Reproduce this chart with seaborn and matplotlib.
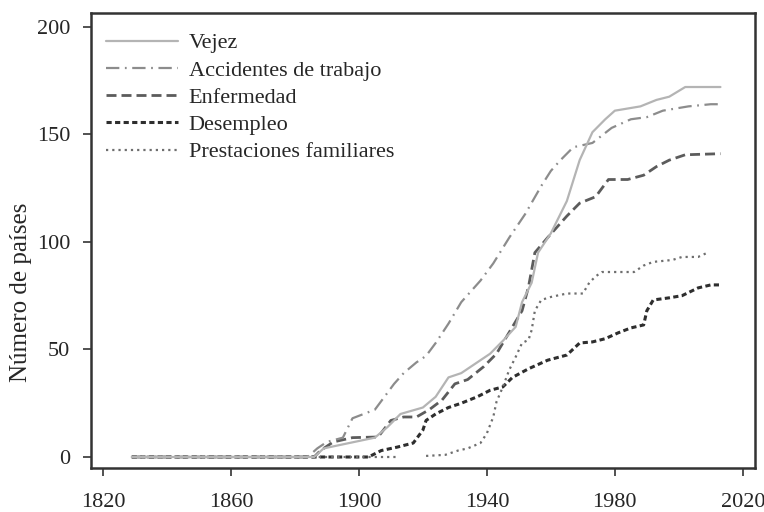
import numpy as np
import pandas as pd
import matplotlib
matplotlib.use("Agg")
import matplotlib.pyplot as plt
import seaborn as sns

# cumulative number of countries with a programme
vejez_years = [1829, 1886, 1889, 1897, 1905, 1909, 1913, 1920, 1924, 1928, 1932, 1937, 1941,
               1945, 1949, 1951, 1954, 1956, 1960, 1965, 1969, 1973, 1977, 1980, 1988, 1993,
               1997, 2002, 2013]
vejez_vals = [0, 0, 4, 6.5, 9, 14, 20, 23, 28, 37, 39, 44, 48,
              54, 60.5, 72, 81, 95, 104, 119, 138, 151, 157, 161, 163, 166,
              167.5, 172, 172]

acc_years = [1829, 1884, 1887, 1890, 1895, 1898, 1905, 1908, 1911, 1914, 1918, 1921, 1924,
             1928, 1932, 1938, 1942, 1947, 1952, 1957, 1960, 1963, 1967, 1973, 1979, 1985,
             1990, 1995, 2003, 2010, 2013]
acc_vals = [0, 0, 4, 7, 9, 18, 22, 28, 34, 39, 44, 47, 53,
            62, 72, 82, 90, 102, 113, 126, 133, 138, 144, 146, 153, 157,
            158, 161, 163, 164, 164]

enf_years = [1829, 1886, 1888, 1892, 1898, 1906, 1910, 1914, 1918, 1922, 1926, 1930, 1934,
             1939, 1943, 1948, 1951, 1953, 1955, 1959, 1965, 1969, 1974, 1978, 1984, 1989,
             1993, 1997, 2002, 2013]
enf_vals = [0, 0, 3, 7, 9, 9.3, 17, 18.6, 18.6, 22, 26.5, 34, 36,
            42, 48, 60.5, 68, 79, 95, 102, 112, 118, 121, 129, 129, 131,
            135, 138, 140.5, 141]

des_years = [1829, 1903, 1907, 1912, 1917, 1920, 1921, 1924, 1928, 1932, 1937, 1941, 1945,
             1948, 1953, 1959, 1965, 1969, 1973, 1977, 1981, 1985, 1989, 1990, 1992, 1997,
             2001, 2006, 2010, 2013]
des_vals = [0, 0, 3, 4.6, 6.5, 12.5, 17, 20, 23, 25, 28, 31, 32.6,
            37, 41, 45, 47.4, 53, 53.5, 55, 57.7, 60, 61.4, 68, 73, 74,
            75, 78.6, 80, 80]

# family benefits: series is missing between 1912 and 1921
fam_years = [1829, 1912, 1921, 1927, 1931, 1934, 1938, 1940, 1942, 1943, 1945, 1947, 1949,
             1951, 1953, 1954, 1955, 1957, 1960, 1965, 1970, 1972, 1974, 1976, 1986, 1989,
             1992, 1998, 2001, 2006, 2009]
fam_vals = [0, 0, 0.5, 1, 3, 4, 6.5, 11, 18.6, 25.6, 32.6, 40.5, 46.5,
            53, 54.4, 59, 68, 73, 74.4, 76, 76, 81, 84, 86, 86, 89,
            90.7, 91.6, 93, 93, 95]
fam_gap_after = 1912

labels = ["Vejez", "Accidentes de trabajo", "Enfermedad", "Desempleo",
          "Prestaciones familiares"]
xticks = [1820, 1860, 1900, 1940, 1980, 2020]
yticks = [0, 50, 100, 150, 200]

sns.set_style("white")
plt.rcParams["font.family"] = ["Liberation Serif", "DejaVu Serif"]

fig = plt.figure(figsize=(7.64, 5.12), dpi=100)
ax = fig.add_axes([0.119, 0.086, 0.869, 0.889])

vejez = pd.DataFrame({"year": vejez_years, "n": vejez_vals})
acc = pd.DataFrame({"year": acc_years, "n": acc_vals})
enf = pd.DataFrame({"year": enf_years, "n": enf_vals})
des = pd.DataFrame({"year": des_years, "n": des_vals})
fam = pd.DataFrame({"year": fam_years, "n": fam_vals})
fam_a = fam[fam["year"] <= fam_gap_after]
fam_b = fam[fam["year"] > fam_gap_after]

sns.lineplot(data=des, x="year", y="n", ax=ax, color="#2e2e2e", lw=2.2,
             linestyle=(0, (1.7, 1.1)), label=labels[3])
sns.lineplot(data=fam_a, x="year", y="n", ax=ax, color="#6e6e6e", lw=1.6,
             linestyle=(0, (1, 1.8)))
sns.lineplot(data=fam_b, x="year", y="n", ax=ax, color="#6e6e6e", lw=1.6,
             linestyle=(0, (1, 1.8)), label=labels[4])
sns.lineplot(data=enf, x="year", y="n", ax=ax, color="#5c5c5c", lw=2,
             linestyle=(0, (3.6, 1.8)), label=labels[2])
sns.lineplot(data=acc, x="year", y="n", ax=ax, color="#8c8c8c", lw=1.6,
             linestyle=(0, (6, 2.5, 0.8, 2.5)), label=labels[1])
sns.lineplot(data=vejez, x="year", y="n", ax=ax, color="#b4b4b4", lw=1.6,
             label=labels[0])

ax.set_xlim(1816.25, 2023.75)
ax.set_ylim(-5.1, 206.5)
ax.set_xticks(xticks)
ax.set_yticks(yticks)
ax.set_xlabel("")
ax.set_ylabel("Número de países", fontsize=18)
ax.yaxis.set_label_coords(-0.088, 0.385)
ax.tick_params(axis="both", which="major", direction="out", length=6, width=1.2,
               color="#333333", labelsize=16, bottom=True, left=True)
ax.tick_params(axis="y", pad=9)
ax.tick_params(axis="x", pad=12)
for s in ax.spines.values():
    s.set_color("#333333")
    s.set_linewidth(1.8)

handles, labs = ax.get_legend_handles_labels()
order = [labs.index(l) for l in labels]
ax.legend([handles[i] for i in order], [labs[i] for i in order],
          loc="upper left", frameon=False, fontsize=16, handlelength=3.2,
          handletextpad=0.5, labelspacing=0.3, borderaxespad=0.3,
          bbox_to_anchor=(0.0, 0.99))

fig.savefig("out.png", dpi=100)
